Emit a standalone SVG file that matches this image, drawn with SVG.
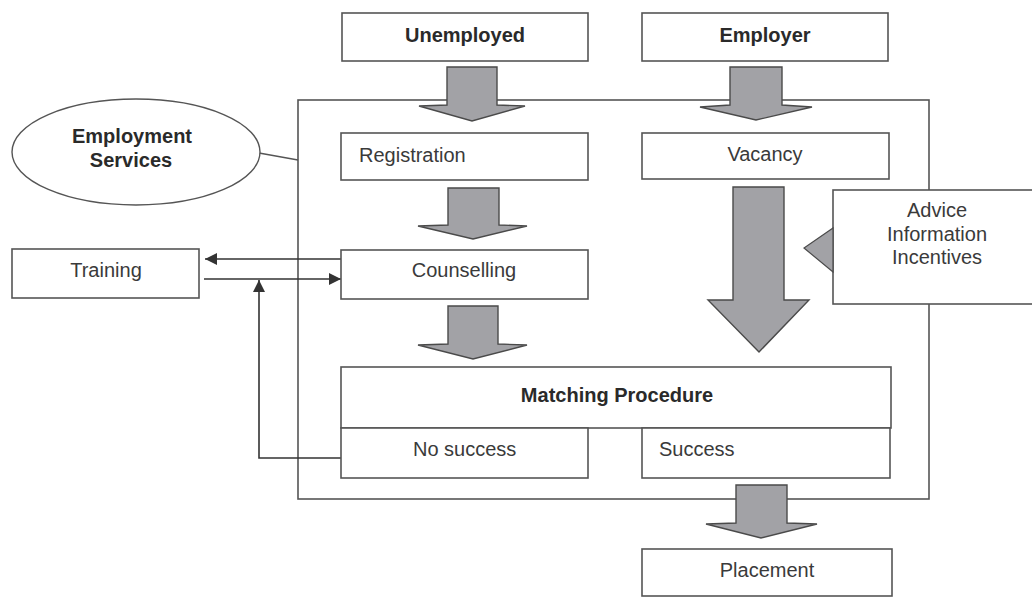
<svg xmlns="http://www.w3.org/2000/svg" width="1032" height="597" viewBox="0 0 1032 597">
<defs>
<style>
.box{fill:#fff;stroke:#555;stroke-width:1.6}
.frame{fill:none;stroke:#555;stroke-width:1.6}
.big{fill:#a2a2a6;stroke:#4a4a4a;stroke-width:1.4;stroke-linejoin:miter}
.ln{fill:none;stroke:#333;stroke-width:1.6}
.t{font-family:"Liberation Sans",Arial,sans-serif;font-size:20px;fill:#3a3a3a}
.b{font-weight:bold;fill:#2a2a2a}
.m{text-anchor:middle}
</style>
<marker id="ah" viewBox="0 0 12 12" refX="12" refY="6" markerWidth="12" markerHeight="12" markerUnits="userSpaceOnUse" orient="auto">
<path d="M0,0 L12,6 L0,12 Z" fill="#333"/>
</marker>
</defs>
<rect width="1032" height="597" fill="#fff"/>

<g id="frame">
<rect class="frame" x="298" y="100" width="631" height="399"/>
</g>

<g id="connectors">
<line class="ln" x1="259" y1="153" x2="298" y2="160" style="stroke:#555;stroke-width:1.4"/>
<line class="ln" x1="341" y1="259" x2="205" y2="259" marker-end="url(#ah)"/>
<line class="ln" x1="204" y1="279" x2="341" y2="279" marker-end="url(#ah)"/>
<polyline class="ln" points="341,458 259,458 259,280" marker-end="url(#ah)"/>
<polygon class="big" points="447,67 497,67 497,105 525,106 472,121 419,106 447,105"/>
<polygon class="big" points="730,67 782,67 782,105 812,107 756,120 700,107 730,105"/>
<polygon class="big" points="448,188 499,188 499,225 527,226 473,239 418,226 448,225"/>
<polygon class="big" points="448,306 498,306 498,344 527,345 473,359 418,345 448,344"/>
<polygon class="big" points="733,187 784,187 784,300 809,300 759,352 708,300 733,300"/>
<polygon class="big" points="736,485 787,485 787,523 817,524 761,538 706,524 736,523"/>
</g>

<g id="unemployed">
<rect class="box" x="342" y="13" width="246" height="48"/>
<text class="t b m" x="465" y="42">Unemployed</text>
</g>
<g id="employer">
<rect class="box" x="642" y="13" width="246" height="48"/>
<text class="t b m" x="765" y="42">Employer</text>
</g>
<g id="employment-services">
<ellipse class="box" cx="136" cy="152" rx="124" ry="53" style="stroke-width:1.4"/>
<text class="t b m" x="132" y="143">Employment</text>
<text class="t b m" x="131" y="167">Services</text>
</g>
<g id="registration">
<rect class="box" x="341" y="133" width="247" height="47"/>
<text class="t" x="359" y="162">Registration</text>
</g>
<g id="vacancy">
<rect class="box" x="642" y="133" width="247" height="46"/>
<text class="t m" x="765" y="161">Vacancy</text>
</g>
<g id="training">
<rect class="box" x="12" y="249" width="187" height="49"/>
<text class="t m" x="106" y="277">Training</text>
</g>
<g id="counselling">
<rect class="box" x="341" y="250" width="247" height="49"/>
<text class="t m" x="464" y="277">Counselling</text>
</g>
<g id="advice">
<rect class="box" x="833" y="190" width="205" height="114"/>
<polygon points="833,228 804,248 833,272" fill="#a2a2a6" stroke="#4a4a4a" stroke-width="1.2"/>
<text class="t m" x="937" y="217">Advice</text>
<text class="t m" x="937" y="241">Information</text>
<text class="t m" x="937" y="264">Incentives</text>
</g>
<g id="matching">
<rect class="box" x="341" y="367" width="550" height="61"/>
<text class="t b m" x="617" y="402">Matching Procedure</text>
</g>
<g id="no-success">
<rect class="box" x="341" y="428" width="247" height="50"/>
<text class="t" x="413" y="456">No success</text>
</g>
<g id="success">
<rect class="box" x="642" y="428" width="248" height="50"/>
<text class="t" x="659" y="456">Success</text>
</g>
<g id="placement">
<rect class="box" x="642" y="549" width="250" height="47"/>
<text class="t m" x="767" y="577">Placement</text>
</g>
</svg>
